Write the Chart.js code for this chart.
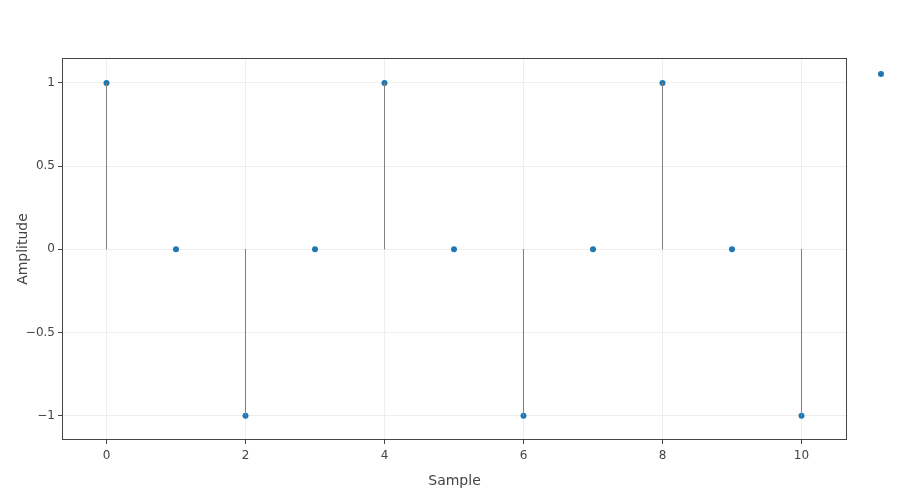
<!DOCTYPE html>
<html>
<head>
<meta charset="utf-8">
<script src="https://cdn.jsdelivr.net/npm/chart.js@4"></script>
<style>
  html, body { margin: 0; padding: 0; background: #fff; }
  #wrap { width: 919px; height: 489px; }
</style>
</head>
<body>
<div id="wrap"><canvas id="stemChart"></canvas></div>
<script>
// Chart data
const samples = [0, 1, 2, 3, 4, 5, 6, 7, 8, 9, 10];
const amplitudes = [1, 0, -1, 0, 1, 0, -1, 0, 1, 0, -1];
const xTicks = [0, 2, 4, 6, 8, 10];
const yTicks = [-1, -0.5, 0, 0.5, 1];

// Stem segments: baseline -> value, broken by gaps
const stemPoints = [];
samples.forEach((s, i) => {
    stemPoints.push({ x: s, y: 0 });
    stemPoints.push({ x: s, y: amplitudes[i] });
    stemPoints.push({ x: s, y: null });
});

const markerPoints = samples.map((s, i) => ({ x: s, y: amplitudes[i] }));

const minusSign = v => String(v).replace('-', '\u2212');

// Full box frame + lone legend marker
const framePlugin = {
    id: 'frame',
    afterDraw(chart) {
        const { ctx, chartArea } = chart;
        ctx.save();
        ctx.strokeStyle = '#444';
        ctx.lineWidth = 1;
        ctx.strokeRect(Math.round(chartArea.left) - 0.5, Math.round(chartArea.top) - 0.5,
            Math.round(chartArea.right - chartArea.left) + 1, Math.round(chartArea.bottom - chartArea.top) + 1);
        // legend marker
        ctx.fillStyle = '#1f77b4';
        ctx.beginPath();
        ctx.arc(chartArea.right + 35, chartArea.top + 15, 3, 0, Math.PI * 2);
        ctx.fill();
        ctx.restore();
    }
};

Chart.defaults.font.family = '"DejaVu Sans", Verdana, sans-serif';
Chart.defaults.color = '#444';

new Chart(document.getElementById('stemChart').getContext('2d'), {
    type: 'scatter',
    data: {
        datasets: [
            {
                label: 'stems',
                data: stemPoints,
                showLine: true,
                spanGaps: false,
                borderColor: '#808080',
                borderWidth: 1,
                pointRadius: 0,
                pointHoverRadius: 0
            },
            {
                label: '',
                data: markerPoints,
                showLine: false,
                pointRadius: 3,
                pointHoverRadius: 3,
                pointBackgroundColor: '#1f77b4',
                pointBorderWidth: 0
            }
        ]
    },
    options: {
        responsive: true,
        maintainAspectRatio: false,
        animation: false,
        layout: {
            padding: { top: 59, right: 73, left: 0, bottom: 0 }
        },
        scales: {
            x: {
                type: 'linear',
                min: -0.6259,
                max: 10.6403,
                afterBuildTicks: axis => { axis.ticks = xTicks.map(v => ({ value: v })); },
                afterFit: axis => { axis.height = 50; },
                grid: { color: '#eeeeee', tickColor: '#444', tickLength: 5 },
                border: { display: false },
                ticks: { font: { size: 12 }, color: '#444', padding: 5, callback: minusSign },
                title: { display: true, text: 'Sample', font: { size: 14, lineHeight: 1.05 }, color: '#444', padding: { top: 0, bottom: 0 } }
            },
            y: {
                type: 'linear',
                min: -1.14,
                max: 1.144,
                afterBuildTicks: axis => { axis.ticks = yTicks.map(v => ({ value: v })); },
                afterFit: axis => { axis.width = 63; },
                grid: { color: '#eeeeee', tickColor: '#444', tickLength: 5 },
                border: { display: false },
                ticks: { font: { size: 12 }, color: '#444', padding: 3, callback: minusSign },
                title: { display: true, text: 'Amplitude', font: { size: 14 }, color: '#444', padding: { top: 15, bottom: 0 } }
            }
        },
        plugins: {
            legend: { display: false },
            tooltip: { enabled: false }
        }
    },
    plugins: [framePlugin]
});
</script>
</body>
</html>
